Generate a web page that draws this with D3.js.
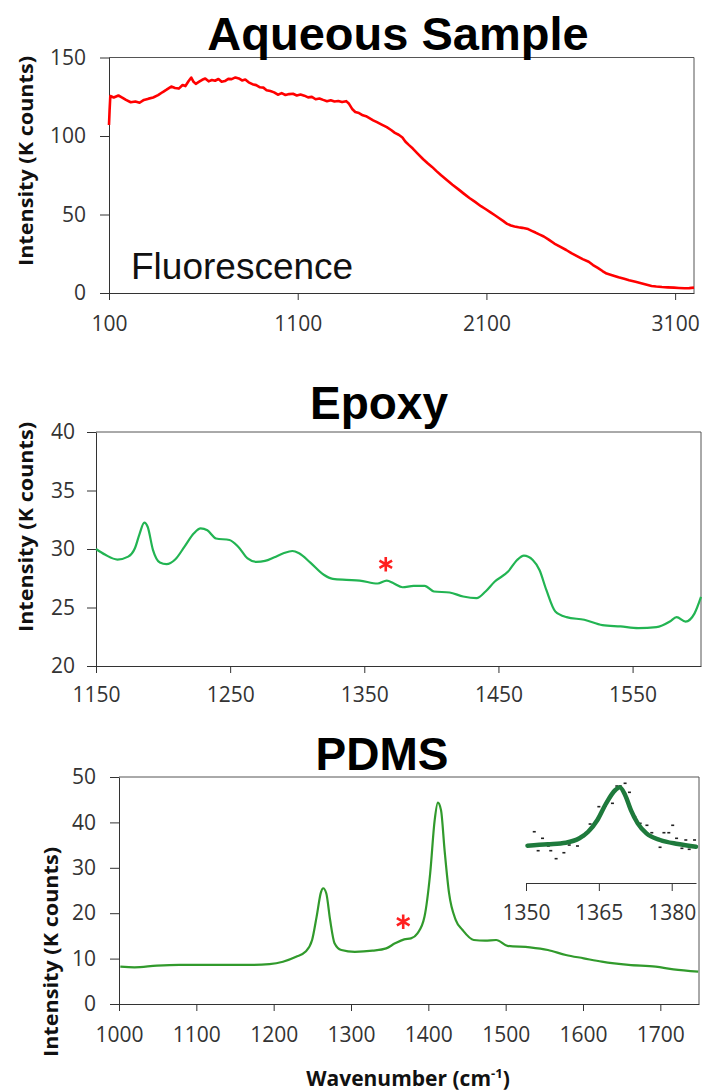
<!DOCTYPE html>
<html><head><meta charset="utf-8">
<script src="https://cdn.jsdelivr.net/npm/d3@7"></script>
<style>body{margin:0;background:#fff;} svg{display:block;}</style>
</head><body><svg id="c" width="704" height="1092"></svg>
<script>
// ---------- DATA ----------
const aqueousWavenumber = [100,103,107,125,150,170,190,215,240,262,285,310,334,360,385,405,430,450,470,490,505,522,536,548,560,578,594,610,628,645,662,680,697,714,732,750,770,788,805,822,840,860,880,900,918,935,955,975,995,1015,1035,1055,1075,1095,1115,1135,1155,1175,1195,1215,1235,1255,1275,1295,1315,1335,1357,1372,1390,1405,1425,1445,1462,1480,1500,1520,1545,1572,1595,1615,1635,1655,1670,1690,1710,1738,1765,1790,1812,1834,1860,1890,1920,1952,1980,2010,2040,2071,2095,2120,2145,2166,2190,2210,2230,2249,2270,2290,2321,2340,2360,2380,2404,2430,2460,2490,2523,2550,2580,2610,2642,2665,2690,2715,2737,2770,2800,2830,2856,2890,2920,2950,2975,3000,3030,3060,3094,3120,3150,3175,3200];
const aqueousIntensity = [107,116,125.5,124.5,125.8,124.5,123,121.5,122,121.2,123,123.8,124.5,126,128,129.5,131.5,130.6,130.2,132.5,131.8,135,137.2,134.5,133.2,134.6,135.8,136.6,134.8,135.7,135.2,136.3,134.6,135,136.4,136.2,137.3,136.7,135.4,136,134.2,133,132.4,131,130.8,129.2,128.7,127.8,126.3,127.3,126.1,126.7,126.9,125.8,126.4,125.7,124.6,124.9,123.4,123.9,123,122.2,122.8,122,122.3,121.6,122.2,120.5,117,115.3,114.6,113.2,112.6,111.4,110,108.8,107.3,105.6,103.8,102,100.8,99,96.5,94.2,92,88.5,85.2,82.5,80.3,77.8,75,72,69,66,63.3,60.5,58,55.3,53.5,51.5,49.5,47.8,45.8,44,43,42.4,41.9,41.5,40.7,39.6,38.5,37.3,36,34,31.5,29.5,27.4,25.4,23.5,21.6,19.9,17.8,16,14,12.4,11.2,10,9,8.1,7.1,6.2,5.3,4.5,4.1,3.8,3.6,3.4,3.2,3.0,3.1,3.4];
const aqueousXTicks = [100,1100,2100,3100];
const aqueousYTicks = [0,50,100,150];

const epoxyWavenumber = [1150,1157,1166,1174,1179,1182.5,1186,1188.5,1192.5,1197.6,1202.6,1209,1216,1223,1228,1233,1239.5,1249.5,1256,1263,1269.6,1276,1283,1289.7,1296.4,1301.4,1309.8,1319.8,1326.5,1336.6,1346.6,1360,1366.7,1371.8,1378.5,1386.8,1395,1401.9,1413.6,1423.7,1433.7,1440.4,1447.1,1457.2,1463.9,1469,1475.6,1480.6,1485.7,1492.4,1500.8,1514,1527.5,1541,1554.3,1567.8,1577.8,1582.8,1589.5,1596.2,1601];
const epoxyIntensity = [30.0,29.5,29.1,29.35,30.06,31.3,32.25,31.9,29.9,28.84,28.7,29.1,30.2,31.34,31.76,31.6,30.9,30.77,30.2,29.2,28.9,28.98,29.3,29.63,29.83,29.63,28.84,27.8,27.45,27.36,27.3,27.05,27.3,27.08,26.73,26.85,26.85,26.37,26.28,25.94,25.8,26.37,27.2,28.07,29.06,29.43,29.06,28.2,26.5,24.66,24.18,23.95,23.5,23.38,23.24,23.32,23.8,24.18,23.8,24.5,25.9];
const epoxyXTicks = [1150,1250,1350,1450,1550];
const epoxyYTicks = [20,25,30,35,40];
const epoxyMarkX = [1366];
const epoxyMarkY = [28.7];

const pdmsWavenumber = [1001.7,1020,1049,1078,1107,1136,1165.5,1194.5,1212,1229,1241,1249.7,1255.5,1261.3,1264,1268,1273,1278.7,1287.5,1305,1328,1345.5,1357,1368.8,1377.5,1386,1395,1402.4,1408.2,1412.3,1416.4,1421,1426.8,1435.5,1444.3,1458.8,1473.3,1487.8,1502.3,1531.4,1554.6,1577.8,1601,1624.3,1659,1694,1717,1749];
const pdmsIntensity = [8.22,8.08,8.44,8.6,8.6,8.6,8.6,8.8,9.32,10.4,11.5,14.1,19.2,24.7,25.5,24.4,18.5,13.4,11.9,11.5,11.75,12.26,13.36,14.24,14.46,15.56,19.2,28.8,40.5,44.35,42.7,33.9,24.4,18.5,16.3,14.1,13.95,14.1,12.8,12.48,11.9,10.8,10.06,9.32,8.6,8.22,7.64,7.12];
const pdmsXTicks = [1000,1100,1200,1300,1400,1500,1600,1700];
const pdmsYTicks = [0,10,20,30,40,50];
const pdmsMarkX = [1367.5];
const pdmsMarkY = [18.1];

// inset (relative intensity, arbitrary units)
const insetFitX = [1350.3,1354.5,1358.2,1361,1362.8,1364.7,1366.5,1368.4,1369.3,1370.4,1371.6,1373,1374.8,1377.6,1381.3,1385];
const insetFitY = [0.61,0.81,1.04,1.67,2.61,4.29,6.67,8.57,8.96,7.86,5.71,3.81,2.38,1.43,0.86,0.47];
const insetPtsX = [1351.7,1352.5,1353.4,1354.6,1355.1,1356.2,1357,1357.8,1358.9,1359.7,1360.6,1361.7,1362.4,1363.2,1364.1,1365,1366.3,1367.8,1368.7,1369.4,1370.4,1371.3,1372.4,1373.5,1374.9,1375.9,1377.6,1378.4,1379.4,1380.2,1381,1382.1,1382.9,1383.6,1384.7];
const insetPtsY = [2.61,-0.1,1.67,0.57,-0.1,-1.24,0.96,-0.39,0.71,1.43,0.57,1.9,2.47,3.71,3.71,6.19,6.29,6.67,9.14,9.14,9.53,8.24,4.76,3.81,3.53,2.47,0.39,2.47,2.47,3.53,1.67,0.24,1.43,0.1,1.43];
const insetXTicks = [1350,1365,1380];

// ---------- DRAW ----------
const svg = d3.select("#c");
const tickFont = "'Open Sans', sans-serif";
const titleFont = "'Liberation Sans', Arial, sans-serif";

function panel(o){
  const x = d3.scaleLinear().domain(o.xDomain).range([o.left, o.right]);
  const y = d3.scaleLinear().domain(o.yDomain).range([o.bottom, o.top]);
  const g = svg.append("g");
  g.append("line").attr("x1",o.left).attr("x2",o.right).attr("y1",o.top).attr("y2",o.top).attr("stroke","#555").attr("stroke-width",1);
  g.append("line").attr("x1",o.right).attr("x2",o.right).attr("y1",o.top).attr("y2",o.bottom).attr("stroke","#555").attr("stroke-width",1);
  const ax = g.append("g").attr("transform",`translate(0,${o.bottom})`)
    .call(d3.axisBottom(x).tickValues(o.xTicks).tickFormat(d3.format("d")).tickSize(7).tickSizeOuter(0).tickPadding(o.xPad));
  const ay = g.append("g").attr("transform",`translate(${o.left},0)`)
    .call(d3.axisLeft(y).tickValues(o.yTicks).tickFormat(d3.format("d")).tickSize(9).tickSizeOuter(0).tickPadding(o.yPad));
  [ax,ay].forEach(a=>{
    a.selectAll("path.domain").attr("stroke","#333");
    a.selectAll(".tick line").attr("stroke","#333");
    a.selectAll("text").attr("font-family",tickFont).attr("font-size",21).attr("fill","#333");
  });
  const line = d3.line().curve(o.curve || d3.curveLinear).x((d,i)=>x(o.xs[i])).y((d,i)=>y(o.ys[i]));
  g.append("path").datum(o.xs).attr("d",line).attr("fill","none").attr("stroke",o.color).attr("stroke-width",o.sw).attr("stroke-linejoin","round");
  g.append("text").attr("x",o.titleX).attr("y",o.titleY).attr("text-anchor","middle")
    .attr("font-family",titleFont).attr("font-weight","bold").attr("font-size",o.titleSize).attr("fill","#000").text(o.title);
  g.append("text").attr("transform",`translate(${o.ylX},${o.ylY}) rotate(-90)`).attr("text-anchor","middle")
    .attr("font-family",tickFont).attr("font-weight","bold").attr("font-size",20).attr("fill","#111")
    .attr("textLength",210).attr("lengthAdjust","spacingAndGlyphs").text("Intensity (K counts)");
  if(o.markX){
    const sym = d3.symbol().type(d3.symbolAsterisk).size(150);
    g.selectAll("path.mark").data(o.markX).join("path").attr("class","mark")
      .attr("transform",(d,i)=>`translate(${x(d)},${y(o.markY[i])})`)
      .attr("d",sym).attr("stroke","#ff2020").attr("stroke-width",2.6).attr("fill","none");
  }
  return {x,y,g};
}

const topPanel = panel({left:109,right:694,top:57.5,bottom:293,xDomain:[100,3200],yDomain:[0,150],
  xTicks:aqueousXTicks,yTicks:aqueousYTicks,xs:aqueousWavenumber,ys:aqueousIntensity,color:"#ff0000",sw:2.6,
  title:"Aqueous Sample",titleX:398,titleY:50,titleSize:47,ylX:33,ylY:161,xPad:16,yPad:14});
topPanel.g.append("text").attr("x",131).attr("y",279).attr("font-family",titleFont).attr("font-size",37).attr("fill","#111").text("Fluorescence");

panel({left:96,right:701,top:432,bottom:666,xDomain:[1150,1601],yDomain:[20,40],
  xTicks:epoxyXTicks,yTicks:epoxyYTicks,xs:epoxyWavenumber,ys:epoxyIntensity,color:"#22b452",sw:2.2,curve:d3.curveMonotoneX,
  title:"Epoxy",titleX:379,titleY:419,titleSize:46,ylX:33,ylY:527,xPad:14,yPad:12,markX:epoxyMarkX,markY:epoxyMarkY});

panel({left:119,right:699,top:777,bottom:1004,xDomain:[1000,1750],yDomain:[0,50],
  xTicks:pdmsXTicks,yTicks:pdmsYTicks,xs:pdmsWavenumber,ys:pdmsIntensity,color:"#319a2c",sw:2.2,curve:d3.curveMonotoneX,
  title:"PDMS",titleX:382,titleY:770,titleSize:46,ylX:58,ylY:952,xPad:16,yPad:14,markX:pdmsMarkX,markY:pdmsMarkY});

svg.append("text").attr("x",408).attr("y",1086).attr("text-anchor","middle").attr("font-family",tickFont)
  .attr("font-weight","bold").attr("font-size",21).attr("fill","#111")
  .call(t=>{t.append("tspan").text("Wavenumber (cm");t.append("tspan").attr("dy",-8).attr("font-size",13).text("-1");t.append("tspan").attr("dy",8).text(")");});

const ix = d3.scaleLinear().domain([1350,1385]).range([526,696]);
const iy = d3.scaleLinear().domain([0,10]).range([850,780]);
const ig = svg.append("g");
const iax = ig.append("g").attr("transform","translate(0,883)")
  .call(d3.axisBottom(ix).tickValues(insetXTicks).tickFormat(d3.format("d")).tickSize(8).tickSizeOuter(0).tickPadding(14));
iax.selectAll("path.domain").attr("stroke","#333");
iax.selectAll(".tick line").attr("stroke","#333");
iax.selectAll("text").attr("font-family",tickFont).attr("font-size",21).attr("fill","#333");
ig.selectAll("rect.pt").data(insetPtsX).join("rect").attr("class","pt")
  .attr("x",(d)=>ix(d)-1.5).attr("y",(d,i)=>iy(insetPtsY[i])-0.8).attr("width",3).attr("height",1.6).attr("fill","#222");
ig.append("path").datum(insetFitX).attr("d",d3.line().curve(d3.curveMonotoneX).x((d,i)=>ix(insetFitX[i])).y((d,i)=>iy(insetFitY[i])))
  .attr("fill","none").attr("stroke","#1e7a3c").attr("stroke-width",4.5).attr("stroke-linecap","round");
</script></body></html>
